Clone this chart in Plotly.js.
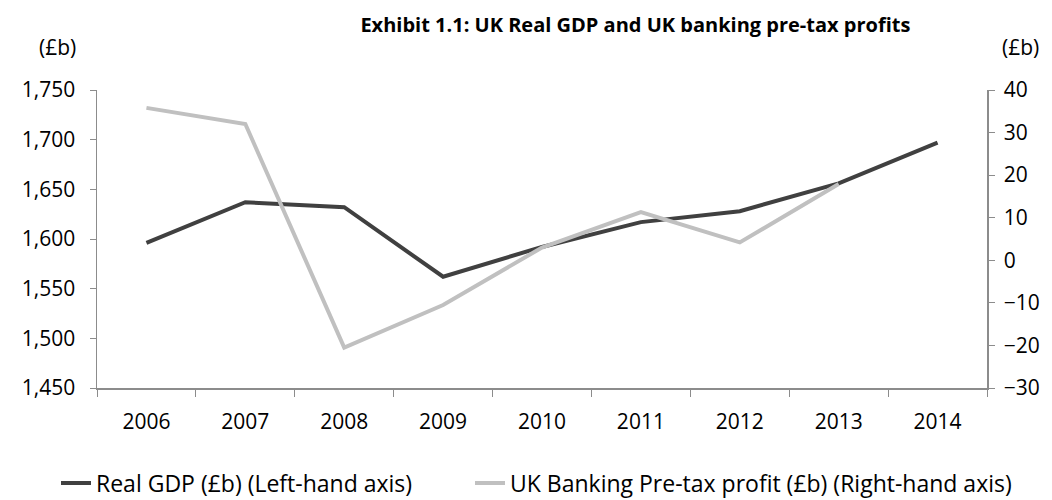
<!DOCTYPE html>
<html>
<head>
<meta charset="utf-8">
<script src="https://cdn.plot.ly/plotly-3.0.1.min.js"></script>
<style>body{margin:0;background:#fff}#chart{width:1052px;height:500px}</style>
</head>
<body>
<div id="chart"></div>
<script>
const years = ['2006','2007','2008','2009','2010','2011','2012','2013','2014'];
const realGDP = [1596, 1637, 1632, 1562, 1592, 1617, 1628, 1656, 1697];
const bankingProfit = [35.8, 32, -20.5, -10.5, 3, 11.3, 4.2, 17.9, null];
const leftTicks = [1450, 1500, 1550, 1600, 1650, 1700, 1750];
const rightTicks = [-30, -20, -10, 0, 10, 20, 30, 40];

const FONT = '"Open Sans", "Noto Sans", sans-serif';
const axisColor = '#8c8c8c';
const FS = 21;

const traces = [
  {x: years, y: realGDP, type: 'scatter', mode: 'lines', name: 'Real GDP (£b) (Left-hand axis)',
   line: {color: '#404040', width: 4}, yaxis: 'y', legend: 'legend'},
  {x: years, y: bankingProfit, type: 'scatter', mode: 'lines', name: 'UK Banking Pre-tax profit (£b) (Right-hand axis)',
   line: {color: '#c0c0c0', width: 4}, yaxis: 'y2', connectgaps: false, legend: 'legend2'}
];

const legendBase = {orientation: 'h', xref: 'container', xanchor: 'left', y: 0.034, yref: 'container', yanchor: 'middle',
                    font: {family: FONT, size: 23}, bgcolor: 'rgba(0,0,0,0)'};

const layout = {
  width: 1052, height: 500,
  paper_bgcolor: '#fff', plot_bgcolor: '#fff',
  margin: {l: 97, r: 65, t: 90, b: 112},
  font: {family: FONT, size: FS, color: '#000'},
  title: {text: 'Exhibit 1.1: UK Real GDP and UK banking pre-tax profits',
          font: {family: FONT, size: 20, color: '#000', weight: 'bold'},
          x: 0.604, xref: 'container', xanchor: 'center', y: 0.95, yref: 'container', yanchor: 'middle'},
  showlegend: true,
  legend: Object.assign({}, legendBase, {x: 56 / 1052}),
  legend2: Object.assign({}, legendBase, {x: 470 / 1052}),
  xaxis: {type: 'category', range: [-0.5, 8.5], showgrid: false, showline: true, linecolor: axisColor, linewidth: 1.5,
          ticks: 'outside', ticklen: 7, tickcolor: axisColor, tickson: 'boundaries', zeroline: false,
          ticklabelstandoff: 14, tickfont: {family: FONT, size: FS}},
  yaxis: {range: [1450, 1750], tickvals: leftTicks, ticktext: leftTicks.map(v => v.toLocaleString('en-US')),
          showgrid: false, showline: true, linecolor: axisColor, linewidth: 1.5, ticks: 'outside', ticklen: 6,
          tickcolor: axisColor, zeroline: false, ticklabelstandoff: 10, tickfont: {family: FONT, size: FS}},
  yaxis2: {range: [-30, 40], tickvals: rightTicks, overlaying: 'y', side: 'right', showgrid: false,
           showline: true, linecolor: axisColor, linewidth: 1.5, ticks: 'outside', ticklen: 6, tickcolor: axisColor,
           zeroline: false, ticklabelstandoff: 5, tickfont: {family: FONT, size: FS}},
  annotations: [
    {text: '(£b)', xref: 'paper', yref: 'paper', x: 0, y: 1, xshift: -40, yshift: 43, showarrow: false,
     xanchor: 'center', yanchor: 'middle', font: {family: FONT, size: FS}},
    {text: '(£b)', xref: 'paper', yref: 'paper', x: 1, y: 1, xshift: 33, yshift: 43, showarrow: false,
     xanchor: 'center', yanchor: 'middle', font: {family: FONT, size: FS}}
  ]
};

Plotly.newPlot('chart', traces, layout, {displayModeBar: false, staticPlot: true});
</script>
</body>
</html>
